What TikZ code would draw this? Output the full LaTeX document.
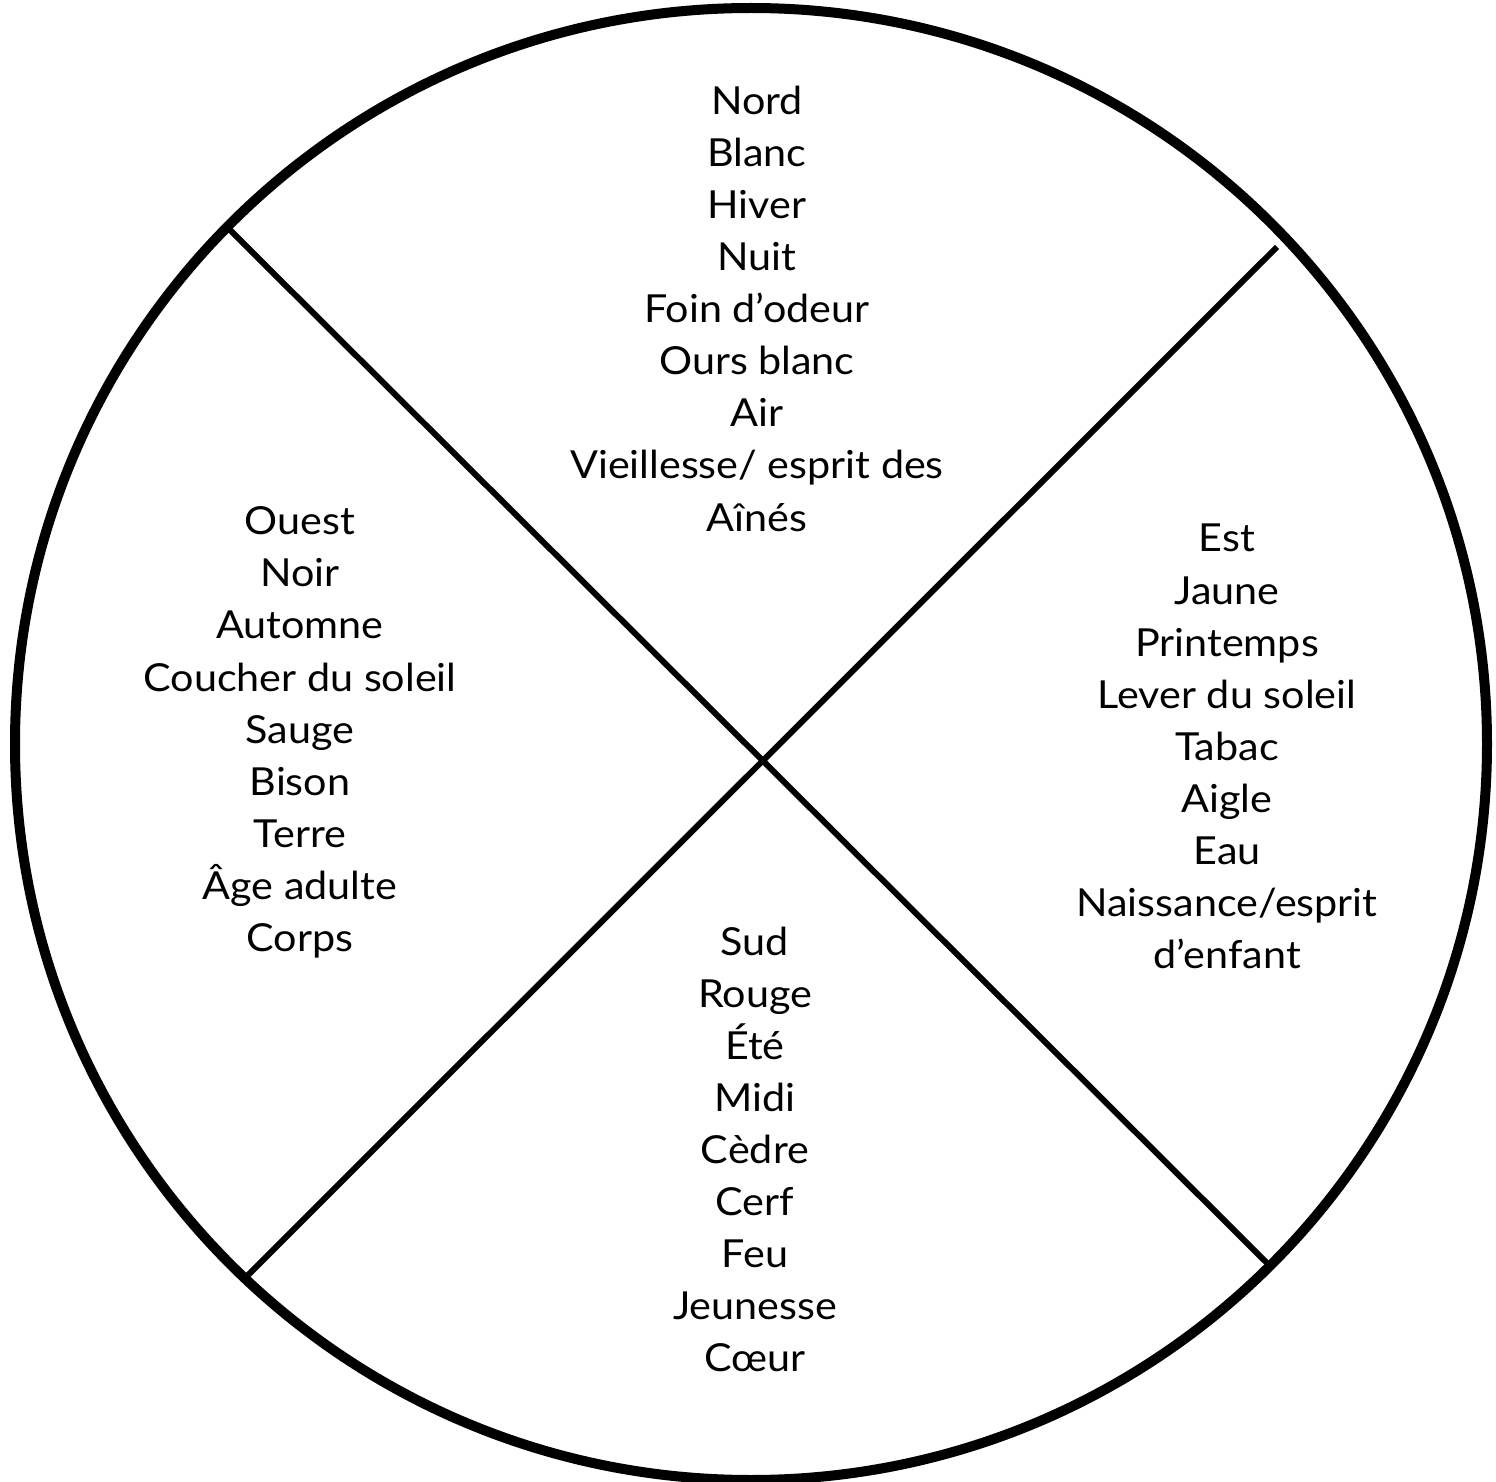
\documentclass[tikz,border=0pt]{standalone}
\usepackage{fontspec}
\setmainfont{Lato}[FakeStretch=1.07]
\begin{document}
\begin{tikzpicture}[x=0.5pt,y=-0.5pt,
  rim/.style={line width=5pt,draw=black},
  divider/.style={line width=3pt,draw=black},
  word/.style={anchor=base,inner sep=0pt,font=\fontsize{19.3pt}{26pt}\selectfont}]
\useasboundingbox (0,0) rectangle (1496,1482);
\clip (0,0) rectangle (1496,1482);
\fill[white] (0,0) rectangle (1496,1482);
\coordinate (c) at (751,744);
\draw[rim] (c) circle[radius=368pt];
\coordinate (tl) at (230,230);
\coordinate (br) at (1267,1263);
\coordinate (tr) at (1277,247);
\coordinate (bl) at (245,1278);
\draw[divider] (tl) -- (br);
\draw[divider] (tr) -- (bl);
% North
\foreach \t [count=\i from 0] in {Nord,Blanc,Hiver,Nuit,Foin d’odeur,Ours blanc,Air,Vieillesse/ esprit des,Aînés}
  \node[word] (n\i) at (757,115+52*\i) {\t};
% West
\foreach \t [count=\i from 0] in {Ouest,Noir,Automne,Coucher du soleil,Sauge,Bison,Terre,Âge adulte,Corps}
  \node[word] (w\i) at (300,535+52*\i) {\t};
% East
\foreach \t [count=\i from 0] in {Est,Jaune,Printemps,Lever du soleil,Tabac,Aigle,Eau,Naissance/esprit,d’enfant}
  \node[word] (e\i) at (1227,552+52*\i) {\t};
% South
\foreach \t [count=\i from 0] in {Sud,Rouge,Été,Midi,Cèdre,Cerf,Feu,Jeunesse,Cœur}
  \node[word] (s\i) at (755,955+52*\i) {\t};
\end{tikzpicture}
\end{document}
